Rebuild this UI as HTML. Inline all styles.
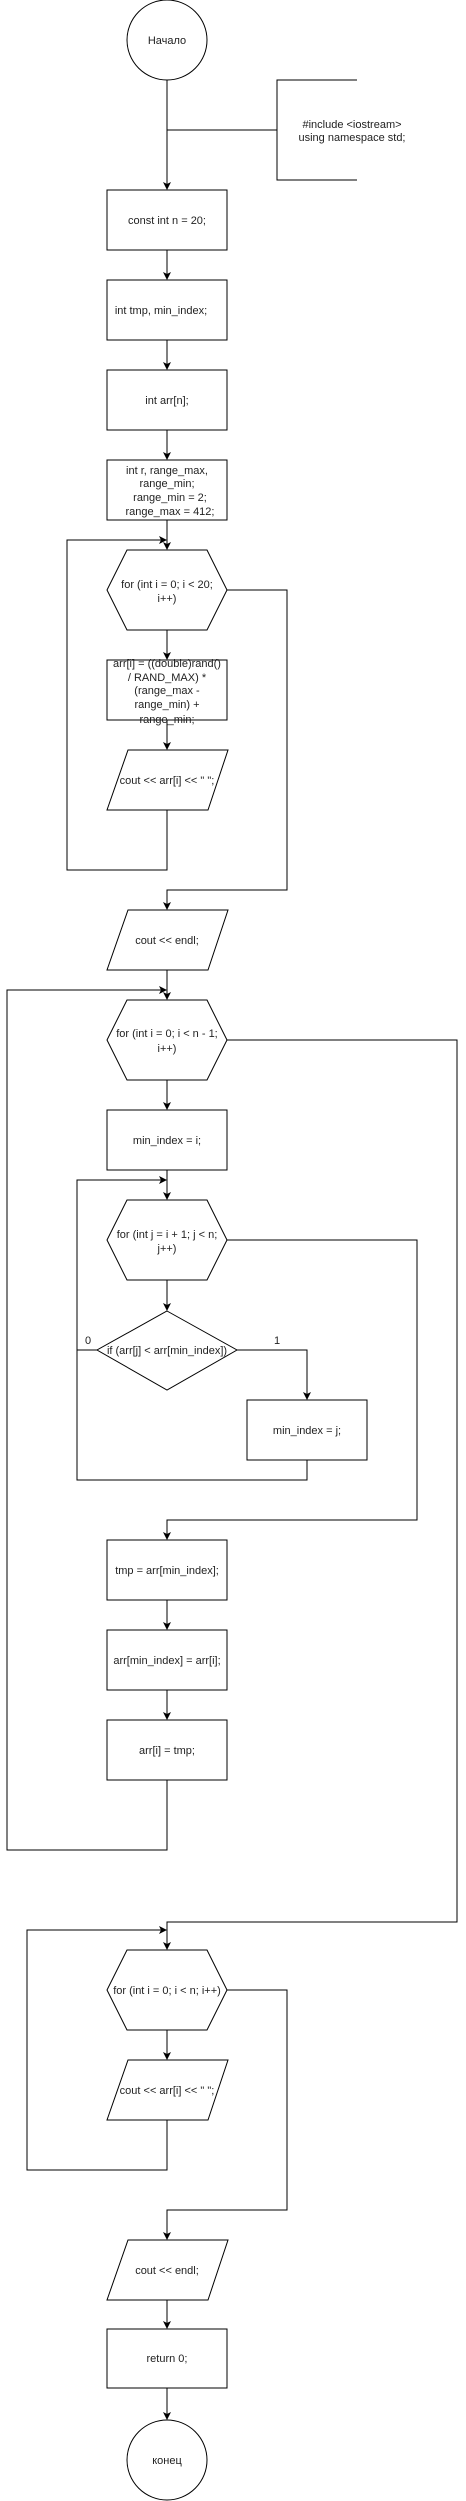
<!DOCTYPE html>
<html><head><meta charset="utf-8"><style>
html,body{margin:0;padding:0;background:#fff;}
svg{display:block;}
text{font-family:"Liberation Sans",Arial,sans-serif;font-size:11px;fill:#222;text-anchor:middle;}
</style></head><body>
<svg width="466" height="2501" viewBox="0 0 466 2501" xmlns="http://www.w3.org/2000/svg">
<defs>
<marker id="a" markerWidth="8" markerHeight="8" refX="7" refY="4" orient="auto" markerUnits="userSpaceOnUse">
<path d="M0,0 L8,4 L0,8 L2,4 Z" fill="#000"/>
</marker>
</defs>
<g fill="none" stroke="#000" stroke-width="1">
<ellipse cx="167" cy="40" rx="40" ry="40" fill="#fff"/>
<line x1="167" y1="80" x2="167" y2="189" marker-end="url(#a)"/>
<path d="M167,130 H277 M357,80 H277 V180 H357"/>
<rect x="107" y="190" width="120" height="60"/>
<line x1="167" y1="250" x2="167" y2="279" marker-end="url(#a)"/>
<rect x="107" y="280" width="120" height="60"/>
<line x1="167" y1="340" x2="167" y2="369" marker-end="url(#a)"/>
<rect x="107" y="370" width="120" height="60"/>
<line x1="167" y1="430" x2="167" y2="459" marker-end="url(#a)"/>
<rect x="107" y="460" width="120" height="60"/>
<line x1="167" y1="520" x2="167" y2="549" marker-end="url(#a)"/>
<polyline points="167,810 167,870 67,870 67,540 166,540" marker-end="url(#a)"/>
<polygon points="127,550 207,550 227,590 207,630 127,630 107,590"/>
<line x1="167" y1="630" x2="167" y2="659" marker-end="url(#a)"/>
<rect x="107" y="660" width="120" height="60"/>
<line x1="167" y1="720" x2="167" y2="749" marker-end="url(#a)"/>
<polygon points="128,750 228,750 208,810 107,810"/>
<polyline points="227,590 287,590 287,890 167,890 167,909" marker-end="url(#a)"/>
<polygon points="128,910 228,910 208,970 107,970"/>
<line x1="167" y1="970" x2="167" y2="999" marker-end="url(#a)"/>
<polyline points="167,1780 167,1850 7,1850 7,990 166,990" marker-end="url(#a)"/>
<polygon points="127,1000 207,1000 227,1040 207,1080 127,1080 107,1040"/>
<line x1="167" y1="1080" x2="167" y2="1109" marker-end="url(#a)"/>
<rect x="107" y="1110" width="120" height="60"/>
<line x1="167" y1="1170" x2="167" y2="1199" marker-end="url(#a)"/>
<polyline points="307,1460 307,1480 77,1480 77,1180 166,1180" marker-end="url(#a)"/>
<polygon points="127,1200 207,1200 227,1240 207,1280 127,1280 107,1240"/>
<line x1="167" y1="1280" x2="167" y2="1310" marker-end="url(#a)"/>
<polygon points="167,1311 237,1350 167,1390 97,1350"/>
<line x1="97" y1="1350" x2="77" y2="1350"/>
<polyline points="237,1350 307,1350 307,1399" marker-end="url(#a)"/>
<rect x="247" y="1400" width="120" height="60"/>
<polyline points="227,1240 417,1240 417,1520 167,1520 167,1539" marker-end="url(#a)"/>
<rect x="107" y="1540" width="120" height="60"/>
<line x1="167" y1="1600" x2="167" y2="1629" marker-end="url(#a)"/>
<rect x="107" y="1630" width="120" height="60"/>
<line x1="167" y1="1690" x2="167" y2="1719" marker-end="url(#a)"/>
<rect x="107" y="1720" width="120" height="60"/>
<polyline points="227,1040 457,1040 457,1922 167,1922 167,1949" marker-end="url(#a)"/>
<polyline points="167,2120 167,2170 27,2170 27,1930 166,1930" marker-end="url(#a)"/>
<polygon points="127,1950 207,1950 227,1990 207,2030 127,2030 107,1990"/>
<line x1="167" y1="2030" x2="167" y2="2059" marker-end="url(#a)"/>
<polygon points="128,2060 228,2060 208,2120 107,2120"/>
<polyline points="227,1990 287,1990 287,2210 167,2210 167,2239" marker-end="url(#a)"/>
<polygon points="128,2240 228,2240 208,2300 107,2300"/>
<line x1="167" y1="2300" x2="167" y2="2328" marker-end="url(#a)"/>
<rect x="107" y="2329" width="120" height="59"/>
<line x1="167" y1="2388" x2="167" y2="2419" marker-end="url(#a)"/>
<ellipse cx="167" cy="2460" rx="40" ry="40"/>
</g>
<g>
<text x="167" y="44">Начало</text>
<text x="352" y="128">#include &lt;iostream&gt;</text>
<text x="352" y="141">using namespace std;</text>
<text x="167" y="224">const int n = 20;</text>
<text x="161" y="314">int tmp, min_index;</text>
<text x="167" y="404">int arr[n];</text>
<text x="167" y="474">int r, range_max,</text>
<text x="167" y="487">range_min;</text>
<text x="170" y="501">range_min = 2;</text>
<text x="170" y="515">range_max = 412;</text>
<text x="167" y="588">for (int i = 0; i &lt; 20;</text>
<text x="167" y="602">i++)</text>
<text x="167" y="667">arr[i] = ((double)rand()</text>
<text x="167" y="681">/ RAND_MAX) *</text>
<text x="167" y="694">(range_max -</text>
<text x="167" y="708">range_min) +</text>
<text x="167" y="723">range_min;</text>
<text x="167" y="784">cout &lt;&lt; arr[i] &lt;&lt; " ";</text>
<text x="167" y="944">cout &lt;&lt; endl;</text>
<text x="167" y="1037">for (int i = 0; i &lt; n - 1;</text>
<text x="167" y="1052">i++)</text>
<text x="167" y="1144">min_index = i;</text>
<text x="167" y="1238">for (int j = i + 1; j &lt; n;</text>
<text x="167" y="1252">j++)</text>
<text x="167" y="1354">if (arr[j] &lt; arr[min_index])</text>
<text x="88" y="1344">0</text>
<text x="277" y="1344">1</text>
<text x="307" y="1434">min_index = j;</text>
<text x="167" y="1574">tmp = arr[min_index];</text>
<text x="167" y="1664">arr[min_index] = arr[i];</text>
<text x="167" y="1754">arr[i] = tmp;</text>
<text x="167" y="1994">for (int i = 0; i &lt; n; i++)</text>
<text x="167" y="2094">cout &lt;&lt; arr[i] &lt;&lt; " ";</text>
<text x="167" y="2274">cout &lt;&lt; endl;</text>
<text x="167" y="2362">return 0;</text>
<text x="167" y="2464">конец</text>
</g>
</svg>
</body></html>
